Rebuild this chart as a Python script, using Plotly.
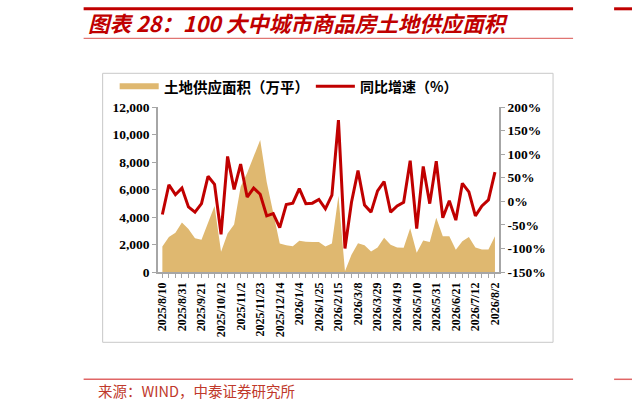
import plotly.graph_objects as go

dates = ["2025/8/10", "2025/8/17", "2025/8/24", "2025/8/31", "2025/9/7", "2025/9/14", "2025/9/21",
         "2025/9/28", "2025/10/5", "2025/10/12", "2025/10/19", "2025/10/26", "2025/11/2", "2025/11/9",
         "2025/11/16", "2025/11/23", "2025/11/30", "2025/12/7", "2025/12/14", "2025/12/21", "2025/12/28",
         "2026/1/4", "2026/1/11", "2026/1/18", "2026/1/25", "2026/2/1", "2026/2/8", "2026/2/15",
         "2026/2/22", "2026/3/1", "2026/3/8", "2026/3/15", "2026/3/22", "2026/3/29", "2026/4/5",
         "2026/4/12", "2026/4/19", "2026/4/26", "2026/5/3", "2026/5/10", "2026/5/17", "2026/5/24",
         "2026/5/31", "2026/6/7", "2026/6/14", "2026/6/21", "2026/6/28", "2026/7/5", "2026/7/12",
         "2026/7/19", "2026/7/26", "2026/8/2"]

land_supply = [1850, 2550, 2850, 3600, 3130, 2450, 2350, 3550, 4800, 1480,
               2800, 3450, 6200, 7200, 8450, 9600, 6550, 4300, 2080, 1950,
               1880, 2280, 2200, 2180, 2180, 1850, 2080, 5550, 60, 1250,
               2100, 1950, 1500, 1780, 2500, 1980, 1790, 1760, 3180, 1400,
               2300, 2190, 3950, 2600, 2600, 1610, 2240, 2550, 1790, 1640,
               1640, 2600]

yoy = [-28, 35, 14, 28, -12, -23, -5, 53, 36, -70,
       95, 25, 79, 9, 28, 15, -31, -26, -56, -7,
       -4, 27, -5, -4, 4, -16, 13, 172, -100, -2,
       65, -8, -23, 22, 42, -23, -10, -2, 86, -58,
       74, -5, 85, -35, 1, -40, 38, 20, -31, -10,
       3, 62]

title_text = "图表 28：100 大中城市商品房土地供应面积"
source_text = "来源：WIND，中泰证券研究所"
legend_area = "土地供应面积（万平）"
legend_line = "同比增速（%）"

left_ticks = [0, 2000, 4000, 6000, 8000, 10000, 12000]
right_ticks = [-150, -100, -50, 0, 50, 100, 150, 200]
right_labels = [f"{v}%" for v in right_ticks]

W, H = 632, 409
L, R, T, B = 158.3, 499.0, 106.7, 271.7

def px(x):
    return (x - L) / (R - L)

def py(y):
    return (B - y) / (B - T)

idx = list(range(len(dates)))
tick_idx = idx[::3]

AREA = "#DFB870"
RED = "#C00000"
AXIS = "#A6A6A6"
tickfont = dict(family="Liberation Serif", size=13.5, color="black", weight="bold")

fig = go.Figure()
fig.add_trace(go.Scatter(x=idx, y=land_supply, mode="lines", fill="tozeroy",
                         fillcolor=AREA, line=dict(width=0, color=AREA),
                         name=legend_area, showlegend=False, yaxis="y"))
fig.add_trace(go.Scatter(x=idx, y=yoy, mode="lines", line=dict(width=3, color=RED),
                         name=legend_line, showlegend=False, yaxis="y2"))

shapes = []
shapes.append(dict(type="rect", xref="paper", yref="paper", x0=px(103), x1=px(553),
                   y0=py(342), y1=py(73), line=dict(color="#C8C8C8", width=1), layer="below"))
shapes.append(dict(type="line", xref="paper", yref="paper", x0=px(84), x1=px(573),
                   y0=py(8.5), y1=py(8.5), line=dict(color=RED, width=3)))
shapes.append(dict(type="line", xref="paper", yref="paper", x0=px(614), x1=px(640),
                   y0=py(8.5), y1=py(8.5), line=dict(color=RED, width=3)))
shapes.append(dict(type="line", xref="paper", yref="paper", x0=px(84), x1=px(573),
                   y0=py(38), y1=py(38), line=dict(color="#D9534F", width=1)))
shapes.append(dict(type="line", xref="paper", yref="paper", x0=px(84), x1=px(573),
                   y0=py(379), y1=py(379), line=dict(color="#E06666", width=1.5)))
shapes.append(dict(type="line", xref="paper", yref="paper", x0=px(614), x1=px(640),
                   y0=py(379), y1=py(379), line=dict(color="#E06666", width=1.5)))
shapes.append(dict(type="rect", xref="paper", yref="paper", x0=px(120), x1=px(159),
                   y0=py(89), y1=py(83), fillcolor=AREA, line=dict(width=0)))
shapes.append(dict(type="line", xref="paper", yref="paper", x0=px(316), x1=px(355),
                   y0=py(86), y1=py(86), line=dict(color=RED, width=3)))

legfont = dict(family="Noto Sans CJK SC", size=14.5, color="black", weight="bold")
annotations = [
    dict(text=title_text, xref="paper", yref="paper", x=px(86), y=py(22), xanchor="left",
         yanchor="middle", showarrow=False,
         font=dict(family="Noto Sans CJK SC", size=21.5, color=RED, weight="bold", style="italic")),
    dict(text=source_text, xref="paper", yref="paper", x=px(96), y=py(390), xanchor="left",
         yanchor="middle", showarrow=False,
         font=dict(family="Noto Sans CJK SC", size=14.5, color="#C0392B")),
    dict(text=legend_area, xref="paper", yref="paper", x=px(162), y=py(86), xanchor="left",
         yanchor="middle", showarrow=False, font=legfont),
    dict(text=legend_line, xref="paper", yref="paper", x=px(358), y=py(86), xanchor="left",
         yanchor="middle", showarrow=False, font=dict(legfont, size=14)),
]

fig.update_layout(
    width=W, height=H,
    margin=dict(l=L, r=W - R, t=T, b=H - B, pad=0),
    paper_bgcolor="white", plot_bgcolor="white",
    showlegend=False,
    shapes=shapes, annotations=annotations,
    xaxis=dict(range=[-0.67, len(dates) - 1 + 0.62], tickvals=tick_idx,
               ticktext=[dates[i] for i in tick_idx], tickangle=-90,
               ticks="outside", ticklen=4, tickcolor=AXIS, tickwidth=1,
               minor=dict(dtick=1, tick0=0, ticks="outside", ticklen=4, tickcolor=AXIS),
               showline=True, linecolor=AXIS, linewidth=1.5, showgrid=False, zeroline=False,
               tickfont=dict(family="Liberation Serif", size=12, color="black", weight="bold")),
    yaxis=dict(range=[0, 12000], tickvals=left_ticks, tickformat=",", ticks="outside",
               ticklen=4, tickcolor=AXIS, showline=True, linecolor=AXIS, linewidth=1.5,
               showgrid=False, zeroline=False, tickfont=tickfont),
    yaxis2=dict(range=[-150, 200], tickvals=right_ticks, ticktext=right_labels, overlaying="y",
                side="right", ticks="outside", ticklen=4, tickcolor=AXIS, showline=True,
                linecolor=AXIS, linewidth=1.5, showgrid=False, zeroline=False, tickfont=tickfont),
)

fig.write_html("out.html", config={"displayModeBar": False},
               post_script="document.body.style.margin='0';document.body.style.overflow='hidden';")
